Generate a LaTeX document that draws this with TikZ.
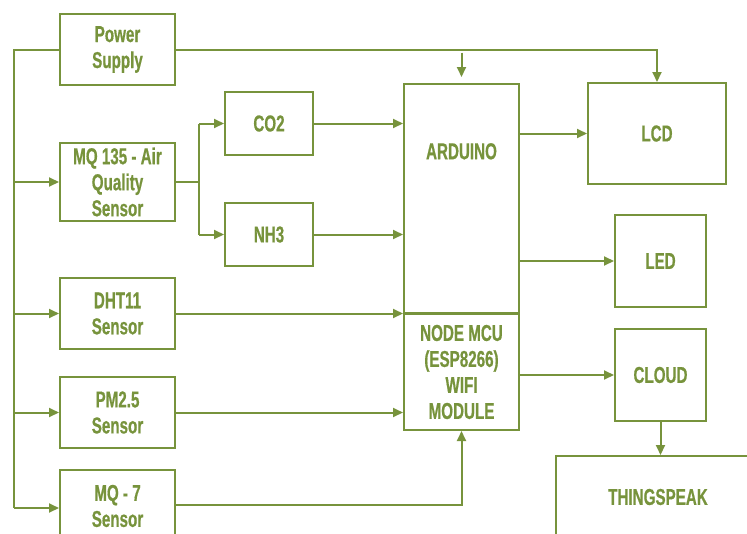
\documentclass[tikz,border=0pt]{standalone}
\usepackage{fontspec}
\setmainfont{Liberation Sans}[FakeStretch=0.66, BoldFeatures={FakeBold=0.6}]
\usetikzlibrary{arrows.meta, calc}
\definecolor{myolive}{HTML}{77933C}
\tikzset{
	blocknode/.style={
			rectangle,
			draw=myolive,
			line width=2pt,
			text=myolive,
			font=\bfseries\fontsize{23}{26}\selectfont,
			align=center,
			inner sep=0pt
		},
	flowline/.style={
			draw=myolive,
			line width=2pt
		},
	flowarrow/.style={
			flowline,
			-{Triangle[length=10pt,width=9pt]}
		}
}

\begin{document}
\begin{tikzpicture}[x=1pt,y=-1pt]
\useasboundingbox (0,0) rectangle (747,533);
\clip (0,0) rectangle (747,533);

\node[blocknode, minimum width=115pt, minimum height=71pt] (pwr) at (117.5,49.5) {Power\\Supply};
\node[blocknode, minimum width=115pt, minimum height=78pt] (mq) at (117.5,182) {MQ 135 - Air\\Quality\\Sensor};
\node[blocknode, minimum width=88pt, minimum height=63pt] (co) at (269,123.5) {CO2};
\node[blocknode, minimum width=88pt, minimum height=63pt] (nh) at (269,234.5) {NH3};
\node[blocknode, minimum width=115pt, minimum height=71pt] (dht) at (117.5,313.5) {DHT11\\Sensor};
\node[blocknode, minimum width=115pt, minimum height=71pt] (pm) at (117.5,412.5) {PM2.5\\Sensor};
\node[blocknode, minimum width=115pt, minimum height=72pt] (mqs) at (117.5,506) {MQ - 7\\Sensor};
\node[blocknode, minimum width=115pt, minimum height=229pt,
      label={[text=myolive, font=\bfseries\fontsize{23}{26}\selectfont, label distance=-80pt]north:ARDUINO}] (ard) at (461.5,198.5) {};
\node[blocknode, minimum width=115pt, minimum height=116pt] (mcu) at (461.5,372) {NODE MCU\\(ESP8266)\\WIFI\\MODULE};
\node[blocknode, minimum width=138pt, minimum height=101pt] (lcd) at (657,133.5) {LCD};
\node[blocknode, minimum width=91pt, minimum height=92pt] (led) at (660.5,261) {LED};
\node[blocknode, minimum width=91pt, minimum height=92pt] (cloud) at (660.5,375) {CLOUD};
\node[blocknode, minimum width=204pt, minimum height=82pt] (thing) at (658,497) {THINGSPEAK};

\coordinate (bustop) at (14,49.5);
\coordinate (busbot) at (14,508);
\coordinate (split) at (199,182);

% power bus
\draw[flowline] (pwr.west) -- (bustop) -- (busbot);
\draw[flowarrow] (bustop |- mq.west) -- (mq.west);
\draw[flowarrow] (bustop |- dht.west) -- (dht.west);
\draw[flowarrow] (bustop |- pm.west) -- (pm.west);
\draw[flowarrow] (busbot) -- (mqs.west |- busbot);
\draw[flowarrow] (pwr.east) -- (pwr.east -| lcd.north) -- (lcd.north);
\draw[flowarrow, shorten <=3pt, shorten >=6pt] (pwr.east -| ard.north) -- (ard.north);

% gas sensor
\draw[flowline] (mq.east) -- (split);
\draw[flowline] (split |- co.west) -- (split |- nh.west);
\draw[flowarrow] (split |- co.west) -- (co.west);
\draw[flowarrow] (split |- nh.west) -- (nh.west);
\draw[flowarrow] (co.east) -- (co.east -| ard.west);
\draw[flowarrow] (nh.east) -- (nh.east -| ard.west);

% sensors to controller
\draw[flowarrow] (dht.east) -- (dht.east -| ard.west);
\draw[flowarrow] (pm.east) -- (pm.east -| mcu.west);
\draw[flowarrow] ($(mqs.east)+(0,-1)$) -- ($(mqs.east -| mcu.south)+(0,-1)$) -- (mcu.south);

% outputs
\draw[flowarrow] (lcd.west -| ard.east) -- (lcd.west);
\draw[flowarrow] (led.west -| ard.east) -- (led.west);
\draw[flowarrow] (cloud.west -| mcu.east) -- (cloud.west);
\draw[flowarrow] (cloud.south) -- (cloud.south |- thing.north);
\end{tikzpicture}
\end{document}
